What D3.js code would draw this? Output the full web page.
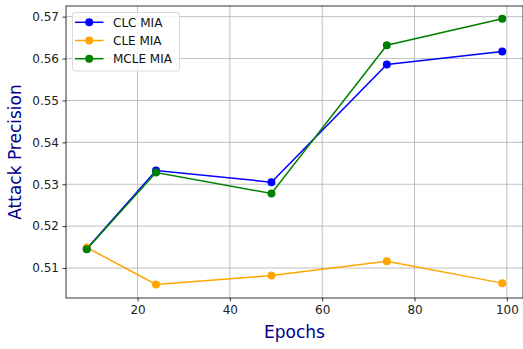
<!DOCTYPE html>
<html>
<head>
<meta charset="utf-8">
<script src="https://cdn.jsdelivr.net/npm/d3@7"></script>
<style>
  html, body { margin: 0; padding: 0; background: #fff; }
  svg { display: block; font-family: "DejaVu Sans", sans-serif; }
</style>
</head>
<body>
<svg id="chart" width="523" height="349"></svg>
<script>
// Training epochs at which the attack was evaluated
const epochs = [9, 24, 49, 74, 99];

// Attack precision per method
const clcMia  = [0.5146, 0.5333, 0.5305, 0.5586, 0.5617];
const cleMia  = [0.5149, 0.5061, 0.5082, 0.5116, 0.5064];
const mcleMia = [0.5145, 0.5328, 0.5278, 0.5632, 0.5695];

const seriesNames  = ["CLC MIA", "CLE MIA", "MCLE MIA"];
const seriesColors = ["#0000ff", "#ffa500", "#008000"];

const xTicks = [20, 40, 60, 80, 100];
const yTicks = [0.51, 0.52, 0.53, 0.54, 0.55, 0.56, 0.57];

const svg = d3.select("#chart");
const plot = { left: 66, right: 523, top: 6, bottom: 298 };

const x = d3.scaleLinear().domain([4.5, 103.5]).range([plot.left, plot.right]);
const y = d3.scaleLinear().domain([0.50285, 0.57255]).range([plot.bottom, plot.top]);

// Grid lines
const grid = svg.append("g").attr("stroke", "#b0b0b0").attr("stroke-width", 0.8);
grid.selectAll(".gx").data(xTicks).join("line")
  .attr("x1", d => x(d)).attr("x2", d => x(d))
  .attr("y1", plot.top).attr("y2", plot.bottom);
grid.selectAll(".gy").data(yTicks).join("line")
  .attr("x1", plot.left).attr("x2", plot.right)
  .attr("y1", d => y(d)).attr("y2", d => y(d));

// Series
const data = [clcMia, cleMia, mcleMia];
const line = d3.line().x((d, i) => x(epochs[i])).y(d => y(d));
data.forEach((vals, k) => {
  const g = svg.append("g");
  g.append("path").datum(vals)
    .attr("d", line).attr("fill", "none")
    .attr("stroke", seriesColors[k]).attr("stroke-width", 1.5);
  g.selectAll("circle").data(vals).join("circle")
    .attr("cx", (d, i) => x(epochs[i])).attr("cy", d => y(d))
    .attr("r", 4).attr("fill", seriesColors[k]);
});

// Axes
const xAxis = d3.axisBottom(x).tickValues(xTicks).tickSize(3.5).tickPadding(3.5).tickFormat(d3.format("d"));
const yAxis = d3.axisLeft(y).tickValues(yTicks).tickSize(3.5).tickPadding(3.5).tickFormat(d3.format(".2f"));

const gx = svg.append("g").attr("transform", `translate(0,${plot.bottom})`).call(xAxis);
const gy = svg.append("g").attr("transform", `translate(${plot.left},0)`).call(yAxis);
[gx, gy].forEach(g => {
  g.select(".domain").remove();
  g.selectAll(".tick line").attr("stroke", "#000").attr("stroke-width", 0.8);
  g.selectAll(".tick text").attr("fill", "#222").attr("font-size", 12)
    .attr("font-family", "DejaVu Sans, sans-serif");
});

// Frame
svg.append("rect")
  .attr("x", plot.left).attr("y", plot.top)
  .attr("width", plot.right - plot.left).attr("height", plot.bottom - plot.top)
  .attr("fill", "none").attr("stroke", "#000").attr("stroke-width", 0.8);

// Axis titles
svg.append("text")
  .attr("x", (plot.left + plot.right) / 2).attr("y", 338)
  .attr("text-anchor", "middle").attr("font-size", 17).attr("fill", "#00008b")
  .text("Epochs");
svg.append("text")
  .attr("transform", `translate(21,${(plot.top + plot.bottom) / 2}) rotate(-90)`)
  .attr("text-anchor", "middle").attr("font-size", 17).attr("fill", "#00008b")
  .text("Attack Precision");

// Legend
const legend = svg.append("g");
legend.append("rect")
  .attr("x", 72.5).attr("y", 12.5).attr("width", 107).attr("height", 58.5)
  .attr("rx", 2.5).attr("fill", "#fff").attr("fill-opacity", 0.8)
  .attr("stroke", "#d0d0d0").attr("stroke-width", 0.8);
seriesNames.forEach((name, k) => {
  const yy = 22.3 + k * 18.2;
  legend.append("line").attr("x1", 75).attr("x2", 103.5)
    .attr("y1", yy).attr("y2", yy)
    .attr("stroke", seriesColors[k]).attr("stroke-width", 1.5);
  legend.append("circle").attr("cx", 89.2).attr("cy", yy).attr("r", 4)
    .attr("fill", seriesColors[k]);
  legend.append("text").attr("x", 113).attr("y", yy).attr("dy", "0.36em")
    .attr("font-size", 12).attr("fill", "#111").text(name);
});
</script>
</body>
</html>
